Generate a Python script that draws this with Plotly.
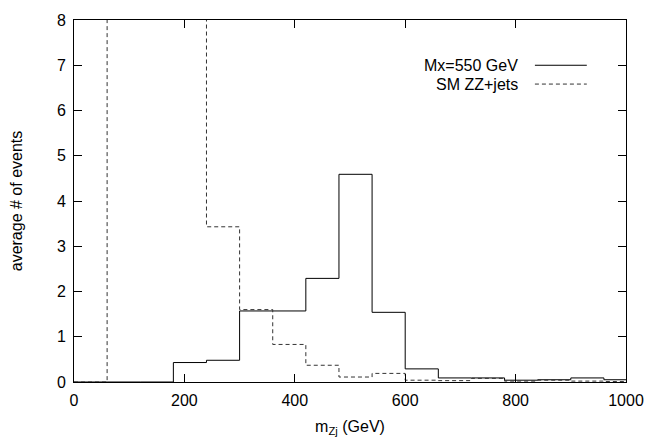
import plotly.graph_objects as go

# Bin edges (GeV) and per-bin contents
bin_edges = [0, 60, 120, 180, 240, 300, 360, 420, 480, 540, 600, 660, 720, 780, 840, 900, 960, 1000]
signal_mx550 = [0, 0, 0, 0.43, 0.48, 1.57, 1.57, 2.29, 4.59, 1.54, 0.29, 0.09, 0.09, 0.04, 0.05, 0.09, 0.05]
sm_zz_jets = [0, 21.0, 26.0, 14.0, 3.43, 1.60, 0.83, 0.37, 0.11, 0.19, 0.04, 0.03, 0.08, 0.02, 0.04, 0.02, 0.01]

series_names = ["Mx=550 GeV", "SM ZZ+jets"]
x_ticks = [0, 200, 400, 600, 800, 1000]
y_ticks = [0, 1, 2, 3, 4, 5, 6, 7, 8]

FONT = "Liberation Sans, Arial, Helvetica, sans-serif"
FS = 16

fig = go.Figure()
fig.add_trace(go.Scatter(x=bin_edges, y=signal_mx550 + [signal_mx550[-1]], mode="lines",
                         line=dict(shape="hv", color="black", width=1), name=series_names[0],
                         showlegend=False))
fig.add_trace(go.Scatter(x=bin_edges, y=sm_zz_jets + [sm_zz_jets[-1]], mode="lines",
                         line=dict(shape="hv", color="#333333", width=1, dash="4px,3px"),
                         name=series_names[1], showlegend=False))

axis_common = dict(showline=True, linecolor="black", linewidth=1, mirror="allticks",
                   ticks="inside", ticklen=8, tickcolor="black", tickwidth=1,
                   showgrid=False, zeroline=False, ticklabelstandoff=4,
                   ticklabeloverflow="allow",
                   tickfont=dict(family=FONT, size=FS, color="black"))

fig.update_xaxes(range=[0, 1000], tickvals=x_ticks, ticktext=[str(v) for v in x_ticks],
                 title=dict(text="m<sub>Zj</sub> (GeV)", font=dict(family=FONT, size=FS, color="black"),
                            standoff=12),
                 **axis_common)
fig.update_yaxes(range=[0, 8], tickvals=y_ticks, ticktext=[str(v) for v in y_ticks],
                 title=dict(text="average # of events", font=dict(family=FONT, size=FS, color="black"),
                            standoff=30),
                 **axis_common)

# Gnuplot-style key: text right-aligned, line sample to its right
key_rows = [(0.875, dict(color="black", width=1)), (0.823, dict(color="#333333", width=1, dash="4px,3px"))]
for name, (yp, ln) in zip(series_names, key_rows):
    fig.add_annotation(x=0.808, y=yp, xref="paper", yref="paper", text=name, showarrow=False,
                       xanchor="right", yanchor="middle",
                       font=dict(family=FONT, size=FS, color="black"))
    fig.add_shape(type="line", xref="paper", yref="paper", x0=0.835, x1=0.929, y0=yp, y1=yp, line=ln)

fig.update_layout(width=665, height=445, margin=dict(l=74, r=39, t=13, b=63),
                  paper_bgcolor="white", plot_bgcolor="white",
                  font=dict(family=FONT, size=FS, color="black"))

# remove the browser's default 8px body margin so the figure sits at the window origin
fig.write_html("out.html", config={"displayModeBar": False},
               post_script="document.body.style.margin='0';")
